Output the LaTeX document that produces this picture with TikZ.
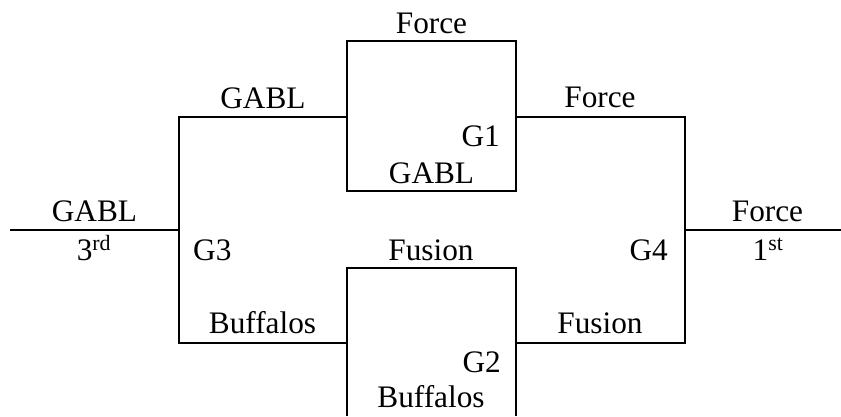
\documentclass[tikz,border=0pt]{standalone}
\usepackage{fontspec}
\setmainfont{Liberation Serif}
\begin{document}
\begin{tikzpicture}[x=1pt,y=-1pt,
  bline/.style={line width=1.5pt,line join=miter},
  lbl/.style={inner sep=0pt,anchor=base,font=\fontsize{31.3}{36}\selectfont},
  lblw/.style={lbl,anchor=base west},
  lble/.style={lbl,anchor=base east}]
\useasboundingbox (0,0) rectangle (841,416);
% corner coordinates
\coordinate (Lend) at (10,230);
\coordinate (G3mid) at (179,230);
\coordinate (G3top) at (179,117);
\coordinate (G3bot) at (179,343);
\coordinate (B1tl) at (347,41);
\coordinate (B1br) at (516,191);
\coordinate (B1lin) at (347,117);
\coordinate (B1rout) at (516,117);
\coordinate (B2lin) at (347,343);
\coordinate (B2rout) at (516,343);
\coordinate (B2tl) at (347,268);
\coordinate (B2tr) at (516,268);
\coordinate (B2bl) at (347,416);
\coordinate (B2br) at (516,416);
\coordinate (G4top) at (685,117);
\coordinate (G4bot) at (685,343);
\coordinate (G4mid) at (685,230);
\coordinate (Rend) at (841,230);
% lines
\draw[bline] (Lend) -- (G3mid);
\draw[bline] (B1lin) -- (G3top) -- (G3bot) -- (B2lin);
\draw[bline] (B1tl) rectangle (B1br);
\draw[bline] (B2bl) -- (B2tl) -- (B2tr) -- (B2br);
\draw[bline] (B1rout) -- (G4top) -- (G4bot) -- (B2rout);
\draw[bline] (G4mid) -- (Rend);
% labels
\node[lbl] (tForce) at (431.5,33) {Force};
\node[lbl] (tGABL1) at (263,108) {GABL};
\node[lble] (tG1) at (500,146) {G1};
\node[lbl] (tGABL2) at (431.5,183) {GABL};
\node[lbl] (tForce2) at (600,107) {Force};
\node[lbl] (tGABL0) at (94.5,221) {GABL};
\node[lbl] (t3rd) at (94,260) {3\textsuperscript{rd}};
\node[lblw] (tG3) at (193,260) {G3};
\node[lbl] (tFusion1) at (431,260) {Fusion};
\node[lble] (tG4) at (668,260) {G4};
\node[lbl] (tForce3) at (767.5,221) {Force};
\node[lbl] (t1st) at (768,260) {1\textsuperscript{st}};
\node[lbl] (tBuff1) at (262.5,333) {Buffalos};
\node[lbl] (tFusion2) at (600,333) {Fusion};
\node[lble] (tG2) at (501,372) {G2};
\node[lbl] (tBuff2) at (431,407) {Buffalos};
\end{tikzpicture}
\end{document}
